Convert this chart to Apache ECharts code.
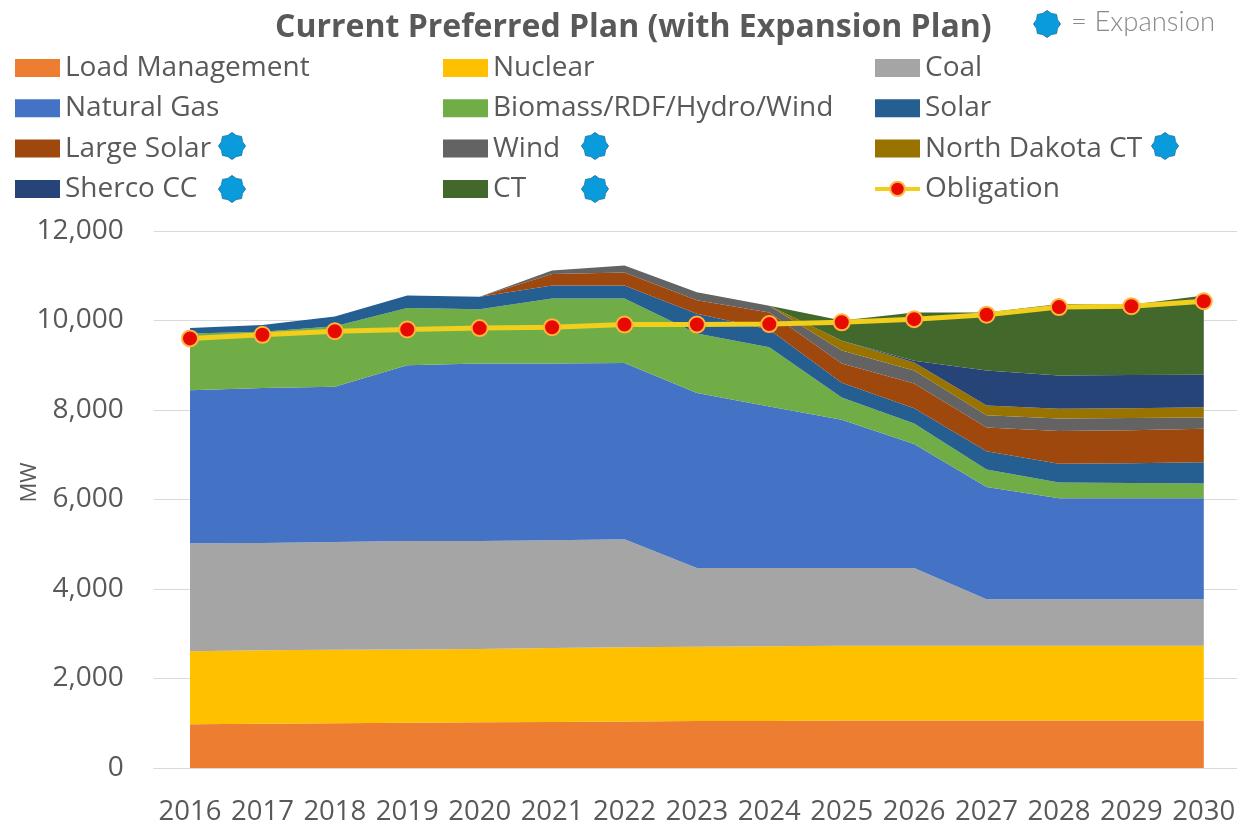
<!DOCTYPE html>
<html><head><meta charset="utf-8">
<style>html,body{margin:0;padding:0;background:#fff}#c{width:1237px;height:827px}</style>
<script src="https://cdn.jsdelivr.net/npm/echarts@6/dist/echarts.min.js"></script>
</head><body><div id="c"></div>
<script>
const years = ['2016','2017','2018','2019','2020','2021','2022','2023','2024','2025','2026','2027','2028','2029','2030'];
const loadManagement = [980,990,1000,1010,1020,1030,1040,1050,1050,1060,1060,1060,1060,1060,1060];
const nuclear = [1630,1640,1640,1640,1640,1650,1660,1660,1670,1670,1670,1670,1670,1670,1670];
const coal = [2410,2400,2410,2420,2410,2410,2410,1760,1750,1740,1740,1040,1040,1040,1040];
const naturalGas = [3420,3460,3470,3930,3970,3950,3940,3910,3610,3310,2770,2510,2260,2260,2260];
const biomass = [1270,1260,1350,1280,1210,1450,1440,1330,1320,500,460,390,350,340,330];
const solar = [120,150,220,280,280,290,290,440,400,330,340,410,420,440,470];
const largeSolar = [0,0,0,0,0,260,290,300,380,430,550,530,730,740,750];
const wind = [0,0,0,0,0,80,160,180,150,290,290,270,280,270,250];
const northDakotaCT = [0,0,0,0,0,0,0,0,0,220,180,220,220,220,230];
const shercoCC = [0,0,0,0,0,0,0,0,0,0,40,780,740,740,730];
const ct = [0,0,0,0,0,0,0,0,0,450,1080,1300,1600,1570,1770];
const obligation = [9600,9680,9760,9800,9830,9850,9910,9910,9920,9960,10030,10130,10300,10320,10430];
const yTicks = [0,2000,4000,6000,8000,10000,12000];

const txt = '#595959', font = 'Open Sans';
const stacked = [
  ['Load Management', loadManagement, '#ed7d31'],
  ['Nuclear', nuclear, '#ffc000'],
  ['Coal', coal, '#a5a5a5'],
  ['Natural Gas', naturalGas, '#4472c4'],
  ['Biomass/RDF/Hydro/Wind', biomass, '#70ad47'],
  ['Solar', solar, '#255e91'],
  ['Large Solar', largeSolar, '#9e480e'],
  ['Wind', wind, '#636363'],
  ['North Dakota CT', northDakotaCT, '#997300'],
  ['Sherco CC', shercoCC, '#264478'],
  ['CT', ct, '#43682b']
];
const series = stacked.map(([name, data, color]) => ({
  name, type:'line', stack:'supply', data, symbol:'none', smooth:false,
  itemStyle:{color}, lineStyle:{width:0, color}, areaStyle:{color, opacity:1}, z:2
}));
series.push({
  name:'Obligation', type:'line', data:obligation, symbol:'circle', symbolSize:16, showSymbol:true,
  lineStyle:{color:'#f2cf1d', width:5},
  itemStyle:{color:'#e60a00', borderColor:'#ffb43c', borderWidth:2}, z:5
});

function legendCol(left, names){
  return {
    left, top:45, orient:'vertical', itemWidth:45, itemHeight:18, itemGap:4.3,
    selectedMode:false,
    textStyle:{color:txt, fontFamily:font, fontSize:28, lineHeight:36},
    data:names.map(n => n==='Obligation'
      ? {name:n, lineStyle:{color:'#f2cf1d', width:4}}
      : {name:n, icon:'rect'})
  };
}
function badge(cx, cy){
  const pts = [];
  for(let i=0;i<16;i++){
    const r = i%2 ? 11.3 : 13.5, a = Math.PI*2*i/16 - Math.PI/2;
    pts.push([cx + r*Math.cos(a), cy + r*Math.sin(a)]);
  }
  return {type:'polygon', shape:{points:pts}, z:20, style:{fill:'#0a9bdc', stroke:'#1b7fae', lineWidth:1}};
}
const badges = [[232,146],[595,146],[1165,146],[232,189],[595,189],[1047,24]].map(p => badge(p[0],p[1]));

const chart = echarts.init(document.getElementById('c'), null, {renderer:'canvas'});
chart.setOption({
  animation:false,
  backgroundColor:'#fff',
  title:{text:'Current Preferred Plan (with Expansion Plan)', left:270, top:7,
    textStyle:{color:'#595959', fontFamily:font, fontSize:32, fontWeight:'bold'}},
  legend:[
    legendCol(10, ['Load Management','Natural Gas','Large Solar','Sherco CC']),
    legendCol(438, ['Nuclear','Biomass/RDF/Hydro/Wind','Wind','CT']),
    legendCol(868, ['Coal','Solar','North Dakota CT','Obligation'])
  ],
  grid:{left:153.8, top:231, width:1086.2, height:537, outerBoundsMode:'none'},
  xAxis:{type:'category', data:years, boundaryGap:true,
    axisLine:{lineStyle:{color:'#d9d9d9', width:1}}, axisTick:{show:false},
    axisLabel:{color:txt, fontFamily:font, fontSize:27.5, margin:30, interval:0}},
  yAxis:{type:'value', min:0, max:12000, interval:2000,
    name:'MW', nameLocation:'middle', nameGap:113, nameRotate:90, nameMoveOverlap:false,
    nameTextStyle:{color:txt, fontFamily:font, fontSize:22, padding:[0,0,0,34]},
    axisLine:{show:false}, axisTick:{show:false},
    splitLine:{lineStyle:{color:'#d9d9d9', width:1}},
    axisLabel:{color:txt, fontFamily:font, fontSize:28, margin:30, verticalAlign:'middle', padding:[6,0,0,0],
      customValues:yTicks, formatter:v => v.toLocaleString('en-US')}},
  series,
  graphic:badges.concat([{type:'text', left:1071, top:8, z:20,
    style:{text:'= Expansion', fill:'#8a8a8a', font:'300 27.5px Lato'}}])
});
</script></body></html>
